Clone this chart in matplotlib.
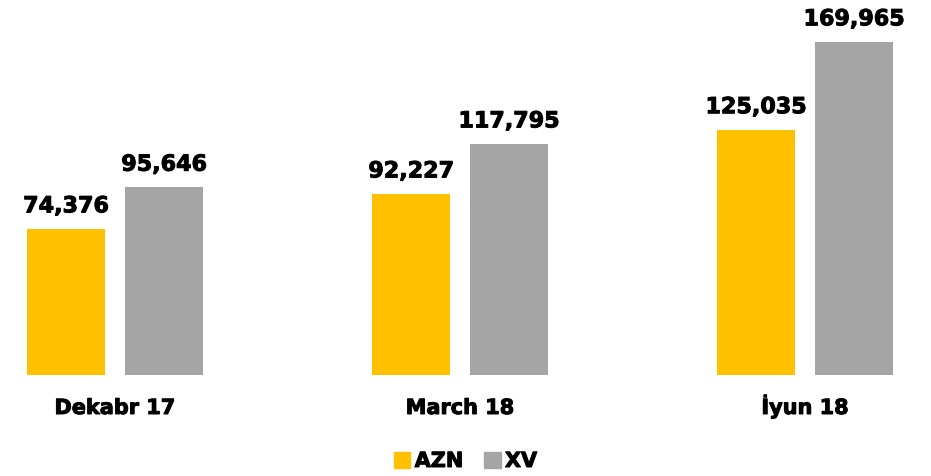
import numpy as np
import matplotlib.pyplot as plt
import matplotlib.patheffects as pe
from matplotlib.patches import Patch

# periods and values
categories = ['Dekabr 17', 'March 18', 'İyun 18']
azn = [74376, 92227, 125035]
xv = [95646, 117795, 169965]
series_names = ['AZN', 'XV']
colors = ['#FFC000', '#A5A5A5']

W, H = 931, 477
fig = plt.figure(figsize=(W / 100, H / 100), dpi=100)
base_px = 375.5
ax = fig.add_axes([0, (H - base_px) / H, 1, base_px / H])

px_per_unit = (base_px - 230) / 74376
x = np.arange(len(categories))
width = 78 / 345
offset = 49 / 345

bars_a = ax.bar(x - offset, azn, width, color=colors[0])
bars_x = ax.bar(x + offset, xv, width, color=colors[1])

# slight stroke to get closer to the heavy label font
thick = [pe.withStroke(linewidth=0.7, foreground='black')]

for bars, vals in [(bars_a, azn), (bars_x, xv)]:
    for b, v in zip(bars, vals):
        ax.annotate(f'{v:,}', (b.get_x() + b.get_width() / 2, v),
                    xytext=(0, 12), textcoords='offset points',
                    ha='center', va='baseline', fontsize=16, fontweight='bold',
                    path_effects=thick)

ax.set_xlim(-115 / 345, (W - 115) / 345)
ax.set_ylim(0, base_px / px_per_unit)
ax.set_xticks([])
ax.set_yticks([])
for s in ax.spines.values():
    s.set_visible(False)

# category labels, on a common baseline
label_y = -(415 - base_px) / base_px
for xi, c in zip(x, categories):
    ax.text(xi, label_y, c, transform=ax.get_xaxis_transform(), ha='center',
            va='baseline', fontsize=15, fontweight='bold', path_effects=thick)

handles = [Patch(color=c) for c in colors]
leg = fig.legend(handles, series_names, loc='center', bbox_to_anchor=(0.5, 1 - 462 / H),
                 ncol=2, frameon=False, prop={'size': 15, 'weight': 'bold'},
                 handlelength=0.8, handleheight=0.8, handletextpad=0.2, columnspacing=1.0)
for t in leg.get_texts():
    t.set_path_effects(thick)

fig.savefig('out.png', dpi=100)
